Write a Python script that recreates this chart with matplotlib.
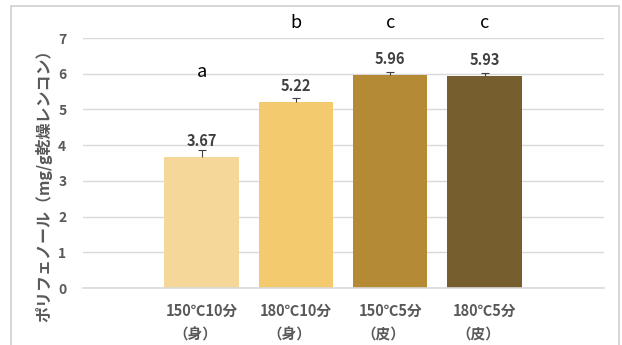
import matplotlib
matplotlib.use("Agg")
import matplotlib.pyplot as plt
from matplotlib.patches import Rectangle
from matplotlib.transforms import blended_transform_factory

plt.rcParams['font.family'] = ['Noto Sans CJK JP', 'DejaVu Sans']

categories = ["150℃10分", "180℃10分", "150℃5分", "180℃5分"]
parts = ["（身）", "（身）", "（皮）", "（皮）"]
values = [3.67, 5.22, 5.96, 5.93]
errors = [0.20, 0.10, 0.10, 0.10]
letters = ["a", "b", "c", "c"]
letter_y = [6.05, 7.42, 7.42, 7.42]
colors = ["#F5D899", "#F3CA6E", "#B48A34", "#775E2F"]
yticks = [0, 1, 2, 3, 4, 5, 6, 7]
ylabel = "ポリフェノール（mg/g乾燥レンコン）"

fig = plt.figure(figsize=(6.22, 3.45), dpi=100)
fig.patches.append(Rectangle((11/622, -0.1), (619-11)/622, 1.1 - 6/345,
                             transform=fig.transFigure, fill=False,
                             edgecolor="#D0D0D0", linewidth=1.2))
ax = fig.add_axes([83/622, 1-288/345, (604-83)/622, 250/345])

x = list(range(len(values)))
ax.bar(x, values, width=0.79, color=colors, zorder=2)
eb = ax.errorbar(x, values, yerr=[[0]*len(errors), errors], fmt='none',
                 ecolor="#404040", elinewidth=0.8, capsize=3, capthick=0.8,
                 zorder=3)
caps = eb[1]
if len(caps) > 1:
    caps[0].set_visible(False)

for xi, v in zip(x, values):
    ax.annotate(f"{v:.2f}", (xi, v), xytext=(0, 11.5), textcoords="offset points",
                ha="center", va="center", fontsize=10.5, fontweight="bold",
                color="#404040")

for xi, l, ly in zip(x, letters, letter_y):
    ax.text(xi, ly, l, ha="center", va="center", fontsize=13,
            color="black", clip_on=False)

ax.set_ylim(0, 7)
ax.set_xlim(-1.257, 3 + 1.267)
ax.set_yticks(yticks)
ax.set_yticklabels([str(t) for t in yticks], fontsize=10, fontweight="bold",
                   color="#595959")
ax.set_xticks(x)
ax.set_xticklabels(categories, fontsize=10.5, fontweight="bold", color="#595959")
trans = blended_transform_factory(ax.transData, ax.transAxes)
for xi, p in zip(x, parts):
    ax.text(xi - 0.07, -47/250, p, transform=trans, ha="center", va="center",
            fontsize=10.5, fontweight="bold", color="#595959")
ax.tick_params(axis="both", length=0)
ax.tick_params(axis="x", pad=11)
ax.tick_params(axis="y", pad=12)
ax.yaxis.grid(True, color="#D9D9D9", linewidth=1, zorder=0)
ax.set_axisbelow(True)
for s in ["top", "right", "left"]:
    ax.spines[s].set_visible(False)
ax.spines["bottom"].set_color("#D9D9D9")
ax.spines["bottom"].set_linewidth(1.2)
ax.set_ylabel(ylabel, fontsize=11.5, fontweight="bold", color="#595959",
              va="center")
ax.yaxis.set_label_coords(-0.075, 0.424)

fig.savefig("out.png", dpi=100)
